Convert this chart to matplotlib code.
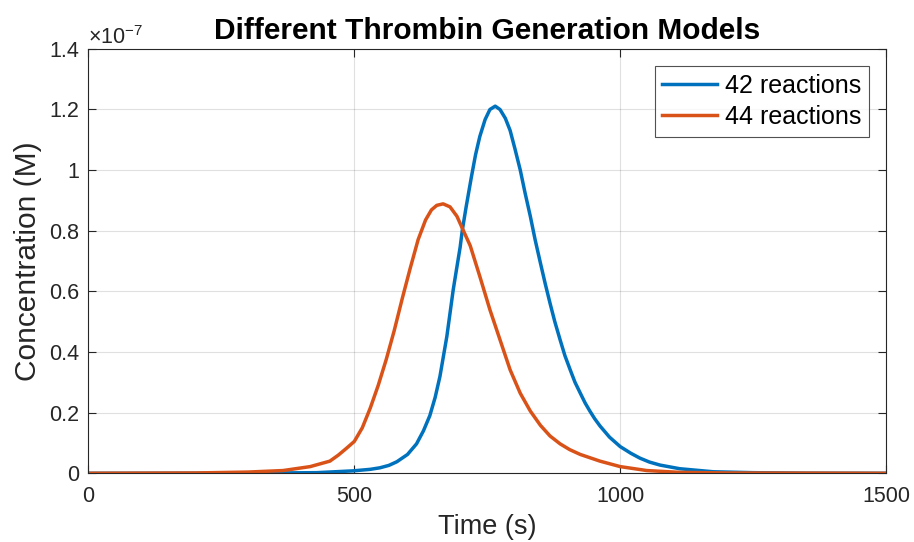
import numpy as np
import matplotlib
matplotlib.use("Agg")
import matplotlib.pyplot as plt
from matplotlib.ticker import FuncFormatter

plt.rcParams['font.family'] = ['Liberation Sans', 'DejaVu Sans']
plt.rcParams['mathtext.fontset'] = 'custom'
plt.rcParams['mathtext.rm'] = 'Liberation Sans'

# Time (s) and concentration (in units of 1e-7 M)
t_42 = [0, 300, 429, 498, 530, 548, 565, 580, 600, 617, 630, 642, 652, 661, 674, 686,
        692, 699, 703, 710, 715, 720, 728, 736, 746, 755, 765, 774, 784, 793, 802, 812,
        821, 831, 840, 850, 859, 868, 877, 887, 896, 906, 915, 925, 934, 943, 952, 962,
        980, 1000, 1020, 1037, 1055, 1075, 1112, 1175, 1250, 1350, 1500]
c_42 = [0, 0.0005, 0.002, 0.008, 0.013, 0.018, 0.026, 0.038, 0.062, 0.097, 0.14, 0.19,
        0.25, 0.319, 0.451, 0.605, 0.67, 0.745, 0.80, 0.875, 0.925, 0.975, 1.05, 1.11,
        1.166, 1.199, 1.21, 1.199, 1.17, 1.13, 1.07, 1.0, 0.925, 0.847, 0.77, 0.693,
        0.625, 0.561, 0.50, 0.44, 0.388, 0.341, 0.30, 0.264, 0.232, 0.205, 0.18, 0.156,
        0.119, 0.088, 0.066, 0.05, 0.037, 0.027, 0.015, 0.005, 0.002, 0.0005, 0]

t_44 = [0, 200, 300, 366, 417, 454, 470, 485, 500, 515, 530, 545, 560, 575, 590, 605,
        620, 634, 645, 655, 667, 680, 693, 705, 718, 736, 755, 774, 793, 812, 831, 850,
        868, 887, 905, 925, 962, 1000, 1050, 1112, 1200, 1500]
c_44 = [0, 0.001, 0.004, 0.009, 0.022, 0.04, 0.06, 0.082, 0.105, 0.15, 0.215, 0.29,
        0.375, 0.47, 0.575, 0.675, 0.77, 0.835, 0.868, 0.883, 0.888, 0.878, 0.847, 0.80,
        0.75, 0.649, 0.539, 0.44, 0.341, 0.264, 0.205, 0.158, 0.123, 0.097, 0.078,
        0.062, 0.040, 0.022, 0.009, 0.003, 0.001, 0]

labels = ["42 reactions", "44 reactions"]
colors = ["#0072BD", "#D95319"]
scale = 1e-7

fig = plt.figure(figsize=(9.14, 5.42), dpi=100)
ax = fig.add_axes([0.0968, 0.1268, 0.9694 - 0.0968, 0.9105 - 0.1268])

ax.plot(t_42, np.array(c_42) * scale, color=colors[0], lw=2.5, label=labels[0],
        solid_joinstyle='round')
ax.plot(t_44, np.array(c_44) * scale, color=colors[1], lw=2.5, label=labels[1],
        solid_joinstyle='round')

ax.set_xlim(0, 1500)
ax.set_ylim(0, 1.4e-7)
ax.set_xticks([0, 500, 1000, 1500])
ax.set_yticks(np.arange(0, 1.41e-7, 0.2e-7))
ax.yaxis.set_major_formatter(FuncFormatter(lambda v, p: "%g" % round(v / scale, 6)))

ax.text(0.0, 1.0, r"$\times\mathregular{10^{-7}}$", transform=ax.transAxes,
        fontsize=15.5, color='#262626', ha='left', va='bottom')

ax.grid(True, color='#000000', alpha=0.12, lw=0.8)
ax.tick_params(direction='in', length=6, width=0.8, labelsize=15.5,
               colors='#262626', top=True, right=True)
ax.tick_params(axis='x', pad=9)
ax.tick_params(axis='y', pad=7)
for s in ax.spines.values():
    s.set_color('#262626')
    s.set_linewidth(0.8)

ax.set_title("Different Thrombin Generation Models", fontsize=21.5, fontweight='bold', pad=7)
ax.set_xlabel("Time (s)", fontsize=19.5, color='#262626', labelpad=5)
ax.set_ylabel("Concentration (M)", fontsize=21.5, color='#262626', labelpad=5)

leg = ax.legend(loc='upper right', fontsize=18, frameon=True, fancybox=False,
                handlelength=2.2, borderaxespad=0.7, labelspacing=0.3,
                handletextpad=0.3, borderpad=0.3)
leg.get_frame().set_edgecolor('#262626')
leg.get_frame().set_linewidth(0.8)

fig.savefig("out.png", dpi=100)
